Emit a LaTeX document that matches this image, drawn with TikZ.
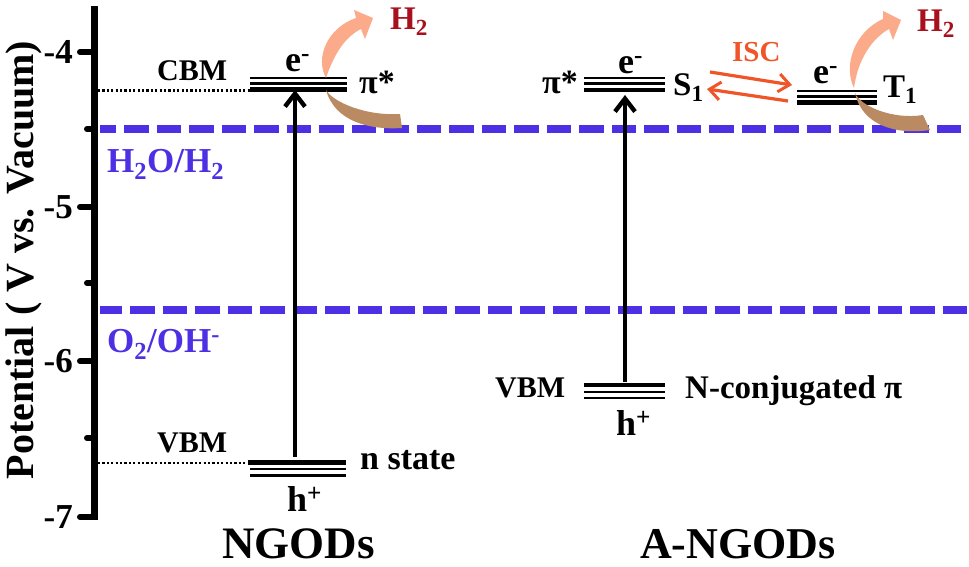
\documentclass[tikz,border=0pt]{standalone}
\usepackage{fontspec}
\setmainfont{Liberation Serif}
\usetikzlibrary{arrows.meta}
\definecolor{dashpurple}{HTML}{4E30E4}
\definecolor{peach}{HTML}{FBAA8A}
\definecolor{tan}{HTML}{BA8A62}
\definecolor{darkred}{HTML}{A8101E}
\definecolor{iscred}{HTML}{F0552A}
\tikzset{
 x=1pt,y=-1pt,
 lab/.style={font=\bfseries\fontsize{#1}{#1}\selectfont,inner sep=0pt,text=black,anchor=base west},
 axisline/.style={line width=7pt},
 tickline/.style={line width=6pt,line cap=round},
 thin level/.style={line width=2.2pt},
 thick level/.style={line width=4.6pt},
 dotline/.style={line width=2.2pt,dash pattern=on 2.2pt off 2.2pt},
 redox/.style={line width=8pt,dashpurple,dash pattern=on 24.5pt off 8pt},
 transition/.style={line width=4pt,-{Straight Barb[length=13pt,width=20pt,line width=4.4pt]}},
 isc/.style={line width=3.2pt,iscred,-{Straight Barb[length=11pt,width=18pt,line width=3pt]}},
}
\begin{document}
\begin{tikzpicture}
\useasboundingbox (0,0) rectangle (969,566);
% axis
\coordinate (axT) at (94.5,6); \coordinate (axB) at (94.5,520);
\draw[axisline] (axT) -- (axB);
\foreach \y/\t/\b in {52/-4/63,207/-5/218,361/-6/372,517/-7/528}{
  \draw[tickline] (80,\y) -- (94,\y);
  \node[lab=35,anchor=base east] at (73,\b) {\t};
}
\foreach \y in {129,283,438}{\draw[tickline] (87,\y) -- (94,\y);}
\node[lab=40,rotate=90,anchor=base] (ylab) at (33,260) {Potential ( V vs. Vacuum)};
% redox lines
\coordinate (r1a) at (100,129); \coordinate (r1b) at (969,129);
\coordinate (r2a) at (100,310); \coordinate (r2b) at (969,310);
\draw[redox,dash phase=8.5pt] (r1a) -- (r1b);
\draw[redox,dash phase=2.5pt] (r2a) -- (r2b);
\node[lab=35,text=dashpurple] (h2o) at (107,172) {H\textsubscript{2}O/H\textsubscript{2}};
\node[lab=35,text=dashpurple] (o2) at (107,352) {O\textsubscript{2}/OH\textsuperscript{-}};
% left levels
\draw[thin level] (250,78) -- (347,78);
\draw[thin level] (250,83.5) -- (347,83.5);
\draw[thick level] (250,89.5) -- (347,89.5);
\draw[thick level] (248,462.5) -- (346,462.5);
\draw[thin level] (250,469) -- (346,469);
\draw[thin level] (250,475.5) -- (346,475.5);
\coordinate (d1a) at (98,90.5); \coordinate (d1b) at (250,90.5);
\coordinate (d2a) at (98,463); \coordinate (d2b) at (248,463);
\draw[dotline] (d1a) -- (d1b);
\draw[dotline] (d2a) -- (d2b);
\coordinate (lv) at (295,457); \coordinate (lc) at (295,90);
\draw[transition] (lv) -- (lc);
% right levels
\draw[thin level] (584,78) -- (665,78);
\draw[thin level] (584,83.5) -- (665,83.5);
\draw[thick level] (584,90) -- (665,90);
\draw[thick level] (584,385) -- (665,385);
\draw[thin level] (584,392) -- (665,392);
\draw[thin level] (584,398) -- (665,398);
\draw[thin level] (797,91) -- (877,91);
\draw[thin level] (797,96.5) -- (877,96.5);
\draw[thick level] (797,102.5) -- (877,102.5);
\coordinate (rv) at (625,382); \coordinate (rc) at (625,95);
\draw[transition] (rv) -- (rc);
% ISC
\coordinate (i1a) at (710,72); \coordinate (i1b) at (792,85);
\coordinate (i2a) at (788,101); \coordinate (i2b) at (707,89);
\draw[isc] (i1a) -- (i1b);
\draw[isc] (i2a) -- (i2b);
\node[lab=29,text=iscred] (isclab) at (732,61) {ISC};
% curved arrows
\fill[peach] (326,78) .. controls (315,58) and (327,28) .. (356,18)
   -- (354,10) -- (373,18) -- (365,39) -- (361,29)
   .. controls (345,37) and (334,54) .. (326,78) -- cycle;
\fill[tan] (326,90) .. controls (333,102) and (365,116) .. (400,114)
   -- (402,128) .. controls (370,130) and (335,122) .. (326,90) -- cycle;
\fill[peach] (854,88) .. controls (843,66) and (854,32) .. (883,19)
   -- (883,11) -- (901,20) -- (893,40) -- (889,29)
   .. controls (873,38) and (858,58) .. (854,88) -- cycle;
\fill[tan] (855,93) .. controls (860,106) and (893,120) .. (923,115)
   -- (930,130) .. controls (895,135) and (862,125) .. (855,93) -- cycle;
% labels
\node[lab=30] (cbm) at (157,80) {CBM};
\node[lab=30] (vbm1) at (157,452) {VBM};
\node[lab=30] (vbm2) at (495,397) {VBM};
\node[lab=36] (e1) at (285,71) {e\textsuperscript{-}};
\node[lab=36] (e2) at (618,73) {e\textsuperscript{-}};
\node[lab=36] (e3) at (813,83) {e\textsuperscript{-}};
\node[lab=34] (pi1) at (359,93) {π*};
\node[lab=34] (pi2) at (542,93) {π*};
\node[lab=33] (s1) at (673,95) {S\textsubscript{1}};
\node[lab=33] (t1) at (883,97) {T\textsubscript{1}};
\node[lab=34] (nstate) at (360,469) {n state};
\node[lab=33] (nconj) at (685,398) {N-conjugated π};
\node[lab=36] (h1) at (287,511) {h\textsuperscript{+}};
\node[lab=36] (h2) at (616,435) {h\textsuperscript{+}};
\node[lab=33,text=darkred] (h2a) at (390,29) {H\textsubscript{2}};
\node[lab=33,text=darkred] (h2b) at (917,31) {H\textsubscript{2}};
\node[lab=45] (ng) at (222,558) {NGODs};
\node[lab=44] (ang) at (640,558) {A-NGODs};
\end{tikzpicture}
\end{document}
